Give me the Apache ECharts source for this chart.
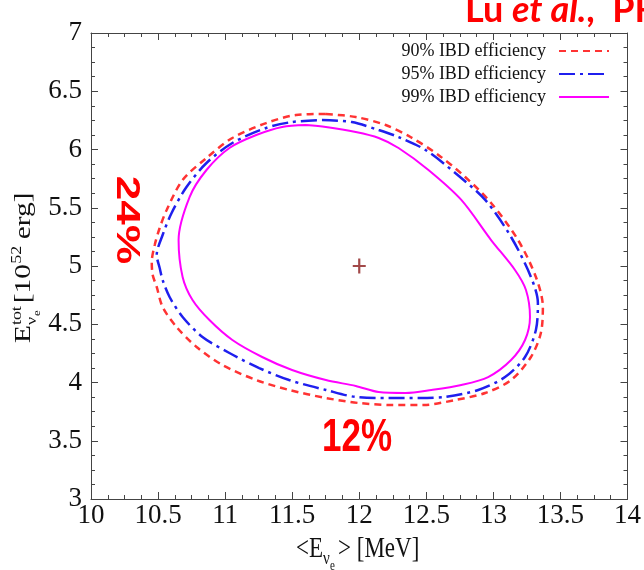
<!DOCTYPE html>
<html>
<head>
<meta charset="utf-8">
<script src="https://cdn.jsdelivr.net/npm/echarts@6/dist/echarts.min.js"></script>
<style>html,body{margin:0;padding:0;background:#fff}#chart{width:644px;height:570px}</style>
</head>
<body>
<div id="chart"></div>
<script>
// ---- data ----
const seriesNames = ['90% IBD efficiency', '95% IBD efficiency', '99% IBD efficiency'];
const xRange = [10, 14];
const yRange = [3, 7];
const xTickStep = 0.5;
const yTickStep = 0.5;
const bestFit = [[12, 5]];
const contour90 = [[11.751,6.305],[11.974,6.279],[12.197,6.210],[12.382,6.107],[12.590,5.953],[12.790,5.764],[12.983,5.541],[13.184,5.223],[13.317,4.906],[13.369,4.648],[13.354,4.425],[13.280,4.219],[13.132,4.021],[12.939,3.910],[12.716,3.850],[12.479,3.807],[12.241,3.807],[11.996,3.824],[11.751,3.867],[11.477,3.936],[11.232,4.021],[10.980,4.150],[10.787,4.305],[10.638,4.476],[10.534,4.648],[10.490,4.820],[10.460,4.923],[10.453,5.034],[10.475,5.180],[10.512,5.326],[10.564,5.481],[10.683,5.738],[10.861,5.927],[11.054,6.099],[11.306,6.227],[11.529,6.296],[11.751,6.305]];
const contour95 = [[11.722,6.253],[11.944,6.236],[12.145,6.167],[12.293,6.107],[12.494,5.996],[12.716,5.798],[12.939,5.567],[13.132,5.249],[13.280,4.906],[13.332,4.682],[13.317,4.451],[13.236,4.219],[13.087,4.047],[12.887,3.936],[12.642,3.876],[12.442,3.867],[12.219,3.867],[11.974,3.876],[11.751,3.936],[11.477,4.021],[11.254,4.124],[11.032,4.253],[10.831,4.391],[10.683,4.562],[10.586,4.734],[10.534,4.880],[10.512,4.983],[10.490,5.094],[10.534,5.266],[10.601,5.455],[10.712,5.678],[10.861,5.884],[11.054,6.056],[11.306,6.185],[11.499,6.236],[11.722,6.253]];
const contour99 = [[11.603,6.210],[11.751,6.193],[11.974,6.150],[12.145,6.099],[12.293,6.013],[12.516,5.824],[12.761,5.567],[12.983,5.223],[13.161,4.966],[13.243,4.794],[13.273,4.562],[13.236,4.365],[13.132,4.193],[12.961,4.047],[12.761,3.979],[12.538,3.936],[12.345,3.910],[12.145,3.918],[11.974,3.970],[11.751,4.021],[11.499,4.107],[11.276,4.219],[11.054,4.365],[10.883,4.536],[10.757,4.708],[10.683,4.906],[10.653,5.223],[10.735,5.592],[10.861,5.824],[11.032,6.013],[11.232,6.124],[11.425,6.193],[11.603,6.210]];

// ---- chart ----
const serif = '"Liberation Serif", "Times New Roman", serif';
const axisColor = '#444';
function makeX(pos, showLabel) {
  return {
    type: 'value', position: pos, min: xRange[0], max: xRange[1], interval: xTickStep,
    axisLine: { show: true, onZero: false, lineStyle: { color: axisColor, width: 1 } },
    axisTick: { show: true, inside: true, length: 7, lineStyle: { color: axisColor } },
    minorTick: { show: true, splitNumber: 4, length: 4, lineStyle: { color: axisColor } },
    splitLine: { show: false },
    axisLabel: { show: showLabel, fontFamily: serif, fontSize: 27, color: '#111', margin: 3 }
  };
}
function makeY(pos, showLabel) {
  return {
    type: 'value', position: pos, min: yRange[0], max: yRange[1], interval: yTickStep,
    axisLine: { show: true, onZero: false, lineStyle: { color: axisColor, width: 1 } },
    axisTick: { show: true, inside: true, length: 7, lineStyle: { color: axisColor } },
    minorTick: { show: true, splitNumber: 4, length: 4, lineStyle: { color: axisColor } },
    splitLine: { show: false },
    axisLabel: { show: showLabel, fontFamily: serif, fontSize: 27, color: '#111', margin: 9 }
  };
}
function contourSeries(name, data, color, width, type) {
  return {
    type: 'line', name: name, data: data, xAxisIndex: 0, yAxisIndex: 0,
    symbol: 'none', showSymbol: false, smooth: 0.3, smoothMonotone: 'none',
    lineStyle: { color: color, width: width, type: type }, itemStyle: { color: color },
    z: 3
  };
}
// text piece whose alphabetic baseline sits at (x, base) in local coordinates
function piece(text, x, base, fs) {
  return { type: 'text', x: x, y: base - 0.83 * fs,
    style: { text: text, fontFamily: serif, fontSize: fs, fill: '#111', textBaseline: 'top', verticalAlign: 'top' } };
}
const chart = echarts.init(document.getElementById('chart'), null, { renderer: 'canvas' });
chart.setOption({
  animation: false,
  backgroundColor: '#fff',
  grid: { left: 91, right: 14, top: 33, bottom: 71 },
  xAxis: [makeX('bottom', true), makeX('top', false)],
  yAxis: [makeY('left', true), makeY('right', false)],
  legend: {
    data: seriesNames, orient: 'vertical', align: 'right', right: 34, top: 42, padding: 0,
    itemWidth: 50, itemHeight: 14, itemGap: 5,
    itemStyle: { opacity: 0, color: 'rgba(0,0,0,0)', borderWidth: 0 },
    textStyle: { fontFamily: serif, fontSize: 18, color: '#111', padding: [0, 8, 0, 0] }
  },
  series: [
    contourSeries(seriesNames[0], contour90, '#ff3333', 2.5, [7, 5]),
    contourSeries(seriesNames[1], contour95, '#1f1fee', 2.5, [16, 5, 3, 5]),
    contourSeries(seriesNames[2], contour99, '#ff00ff', 2, 'solid'),
    {
      type: 'scatter', name: 'best fit', data: bestFit,
      symbol: 'path://M5.4,0H7.6V6.4H13V8.6H7.6V15H5.4V8.6H0V6.4H5.4Z',
      symbolSize: [13, 15], itemStyle: { color: '#8b1c1c' }, z: 4
    }
  ],
  graphic: [
    {
      type: 'text', x: 465, y: -8, z: 10,
      style: {
        text: '{a|Lu }{b|et al.}{a|,  PR}', textBaseline: 'top', verticalAlign: 'top', fill: '#ff0000',
        rich: {
          a: { fontFamily: 'Lato', fontWeight: 'bold', fontSize: 36, fill: '#ff0000' },
          b: { fontFamily: 'Lato', fontWeight: 'bold', fontStyle: 'italic', fontSize: 36, fill: '#ff0000' }
        }
      }
    },
    {
      type: 'text', x: 143, y: 220, rotation: -Math.PI / 2, scaleX: 1.3, z: 10,
      style: { text: '24%', fontFamily: '"Liberation Sans"', fontWeight: 'bold', fontSize: 34, fill: '#ff0000', textAlign: 'center', align: 'center', textBaseline: 'top', verticalAlign: 'top' }
    },
    {
      type: 'text', x: 357, y: 415, scaleY: 1.32, z: 10,
      style: { text: '12%', fontFamily: '"Liberation Sans"', fontWeight: 'bold', fontSize: 35, fill: '#ff0000', textAlign: 'center', align: 'center', textBaseline: 'top', verticalAlign: 'top' }
    },
    {
      // x-axis title
      type: 'group', x: 296, y: 559, scaleY: 1.3,
      children: [
        piece('<E', 0, 0, 23),
        piece('ν', 27, 5, 15),
        piece('e', 34, 9, 11),
        piece('> [MeV]', 42, 0, 23)
      ]
    },
    {
      // y-axis title
      type: 'group', x: 32, y: 343, rotation: Math.PI / 2, scaleX: 1.28,
      children: [
        piece('E', 0, 0, 23),
        piece('tot', 14, -10, 14),
        piece('ν', 14, 5, 14),
        piece('e', 21, 9, 10),
        piece('[10', 31, 0, 23),
        piece('52', 62, -10, 14),
        piece('erg]', 81, 0, 23)
      ]
    }
  ]
});
</script>
</body>
</html>
